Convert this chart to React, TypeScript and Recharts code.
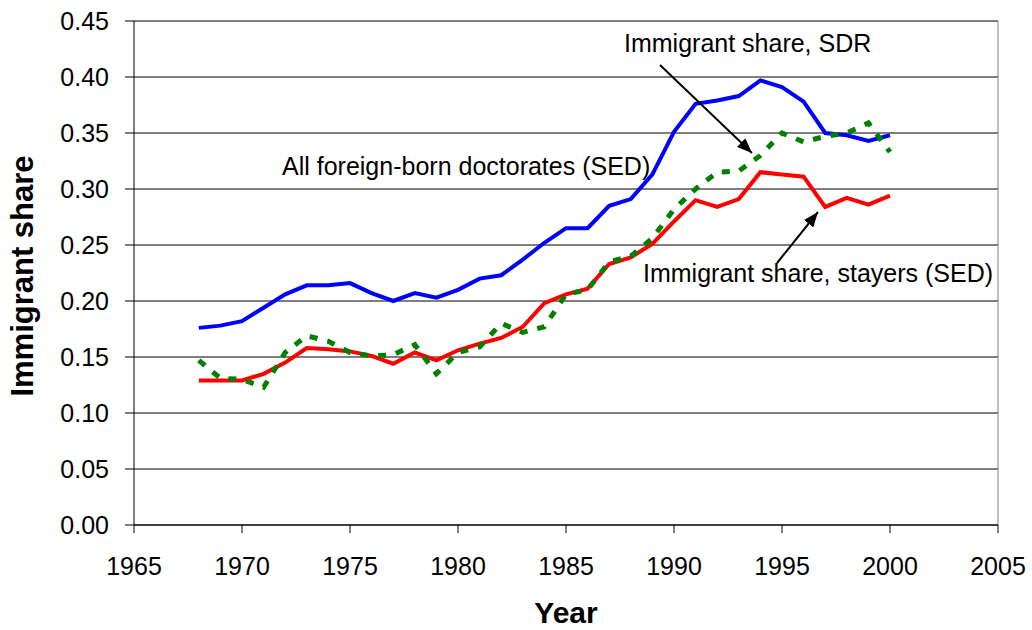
import React from "react";
import {
  LineChart,
  Line,
  XAxis,
  YAxis,
  CartesianGrid,
  ReferenceLine,
} from "recharts";

const years = [
  1968, 1969, 1970, 1971, 1972, 1973, 1974, 1975, 1976, 1977, 1978, 1979, 1980,
  1981, 1982, 1983, 1984, 1985, 1986, 1987, 1988, 1989, 1990, 1991, 1992, 1993,
  1994, 1995, 1996, 1997, 1998, 1999, 2000,
];

// All foreign-born doctorates (SED)
const allForeignBorn = [
  0.176, 0.178, 0.182, 0.194, 0.206, 0.214, 0.214, 0.216, 0.207, 0.2, 0.207,
  0.203, 0.21, 0.22, 0.223, 0.237, 0.252, 0.265, 0.265, 0.285, 0.291, 0.313,
  0.351, 0.376, 0.379, 0.383, 0.397, 0.391, 0.378, 0.35, 0.348, 0.343, 0.348,
];

// Immigrant share, stayers (SED)
const stayersSED = [
  0.129, 0.129, 0.129, 0.135, 0.145, 0.158, 0.157, 0.155, 0.151, 0.144, 0.154,
  0.147, 0.156, 0.162, 0.167, 0.177, 0.198, 0.206, 0.211, 0.233, 0.239, 0.251,
  0.271, 0.29, 0.284, 0.291, 0.315, 0.313, 0.311, 0.284, 0.292, 0.286, 0.294,
];

// Immigrant share, SDR
const immigrantSDR = [
  0.147, 0.131, 0.13, 0.123, 0.154, 0.169, 0.164, 0.154, 0.151, 0.152, 0.161,
  0.135, 0.154, 0.159, 0.18, 0.172, 0.177, 0.206, 0.21, 0.235, 0.24, 0.256,
  0.282, 0.3, 0.315, 0.316, 0.33, 0.35, 0.342, 0.347, 0.35, 0.359, 0.333,
];

const xTicks = [1965, 1970, 1975, 1980, 1985, 1990, 1995, 2000, 2005];
const yTicks = [0, 0.05, 0.1, 0.15, 0.2, 0.25, 0.3, 0.35, 0.4, 0.45];

const data = years.map((year, i) => ({
  year,
  all: allForeignBorn[i],
  stayers: stayersSED[i],
  sdr: immigrantSDR[i],
}));

const FONT = "'Liberation Sans', Arial, sans-serif";

export default function App() {
  const tick = { fontSize: 25, fill: "#000", fontFamily: FONT };

  return (
    <div
      style={{
        position: "absolute",
        left: 0,
        top: 0,
        width: 1032,
        height: 630,
        background: "#fff",
      }}
    >
      <LineChart
        width={1032}
        height={630}
        data={data}
        margin={{ top: 21, right: 34, bottom: 0, left: 0 }}
      >
        <CartesianGrid vertical={false} stroke="#000" strokeWidth={1} />
        <XAxis
          dataKey="year"
          type="number"
          domain={[1965, 2005]}
          ticks={xTicks}
          height={105}
          tickSize={8}
          tickMargin={24}
          axisLine={{ stroke: "#000" }}
          tickLine={{ stroke: "#000" }}
          tick={tick}
          interval={0}
        />
        <YAxis
          type="number"
          domain={[0, 0.45]}
          ticks={yTicks}
          width={134}
          tickSize={9}
          tickMargin={16}
          axisLine={{ stroke: "#000" }}
          tickLine={{ stroke: "#000" }}
          tick={tick}
          interval={0}
          tickFormatter={(v: number) => v.toFixed(2)}
        />
        <ReferenceLine y={0.45} stroke="#808080" />
        <ReferenceLine x={2005} stroke="#808080" />
        <Line
          dataKey="all"
          type="linear"
          stroke="#0000ff"
          strokeWidth={4}
          dot={false}
          isAnimationActive={false}
        />
        <Line
          dataKey="stayers"
          type="linear"
          stroke="#ff0000"
          strokeWidth={4}
          dot={false}
          isAnimationActive={false}
        />
        <Line
          dataKey="sdr"
          type="linear"
          stroke="#008000"
          strokeWidth={5}
          strokeDasharray="8 10"
          dot={false}
          isAnimationActive={false}
        />
      </LineChart>

      {/* titles and annotations */}
      <svg
        width={1032}
        height={630}
        style={{ position: "absolute", left: 0, top: 0, pointerEvents: "none" }}
      >
        <defs>
          <marker
            id="arrowHead"
            markerUnits="userSpaceOnUse"
            markerWidth={15}
            markerHeight={12}
            refX={15}
            refY={6}
            orient="auto"
          >
            <path d="M0,0 L15,6 L0,12 z" fill="#000" />
          </marker>
        </defs>
        <text
          transform="translate(33,276) rotate(-90)"
          textAnchor="middle"
          fontFamily={FONT}
          fontWeight="bold"
          fontSize={31}
          fill="#000"
        >
          Immigrant share
        </text>
        <text
          x={566}
          y={623}
          textAnchor="middle"
          fontFamily={FONT}
          fontWeight="bold"
          fontSize={30}
          fill="#000"
        >
          Year
        </text>
        <g fontFamily={FONT} fontSize={25} fill="#000">
          <text x={624} y={52}>Immigrant share, SDR</text>
          <text x={282} y={175}>All foreign-born doctorates (SED)</text>
          <text x={643} y={282}>Immigrant share, stayers (SED)</text>
        </g>
        <line
          x1={660}
          y1={65}
          x2={752}
          y2={153}
          stroke="#000"
          strokeWidth={2}
          markerEnd="url(#arrowHead)"
        />
        <line
          x1={777}
          y1={263}
          x2={818}
          y2={212}
          stroke="#000"
          strokeWidth={2}
          markerEnd="url(#arrowHead)"
        />
      </svg>
    </div>
  );
}
